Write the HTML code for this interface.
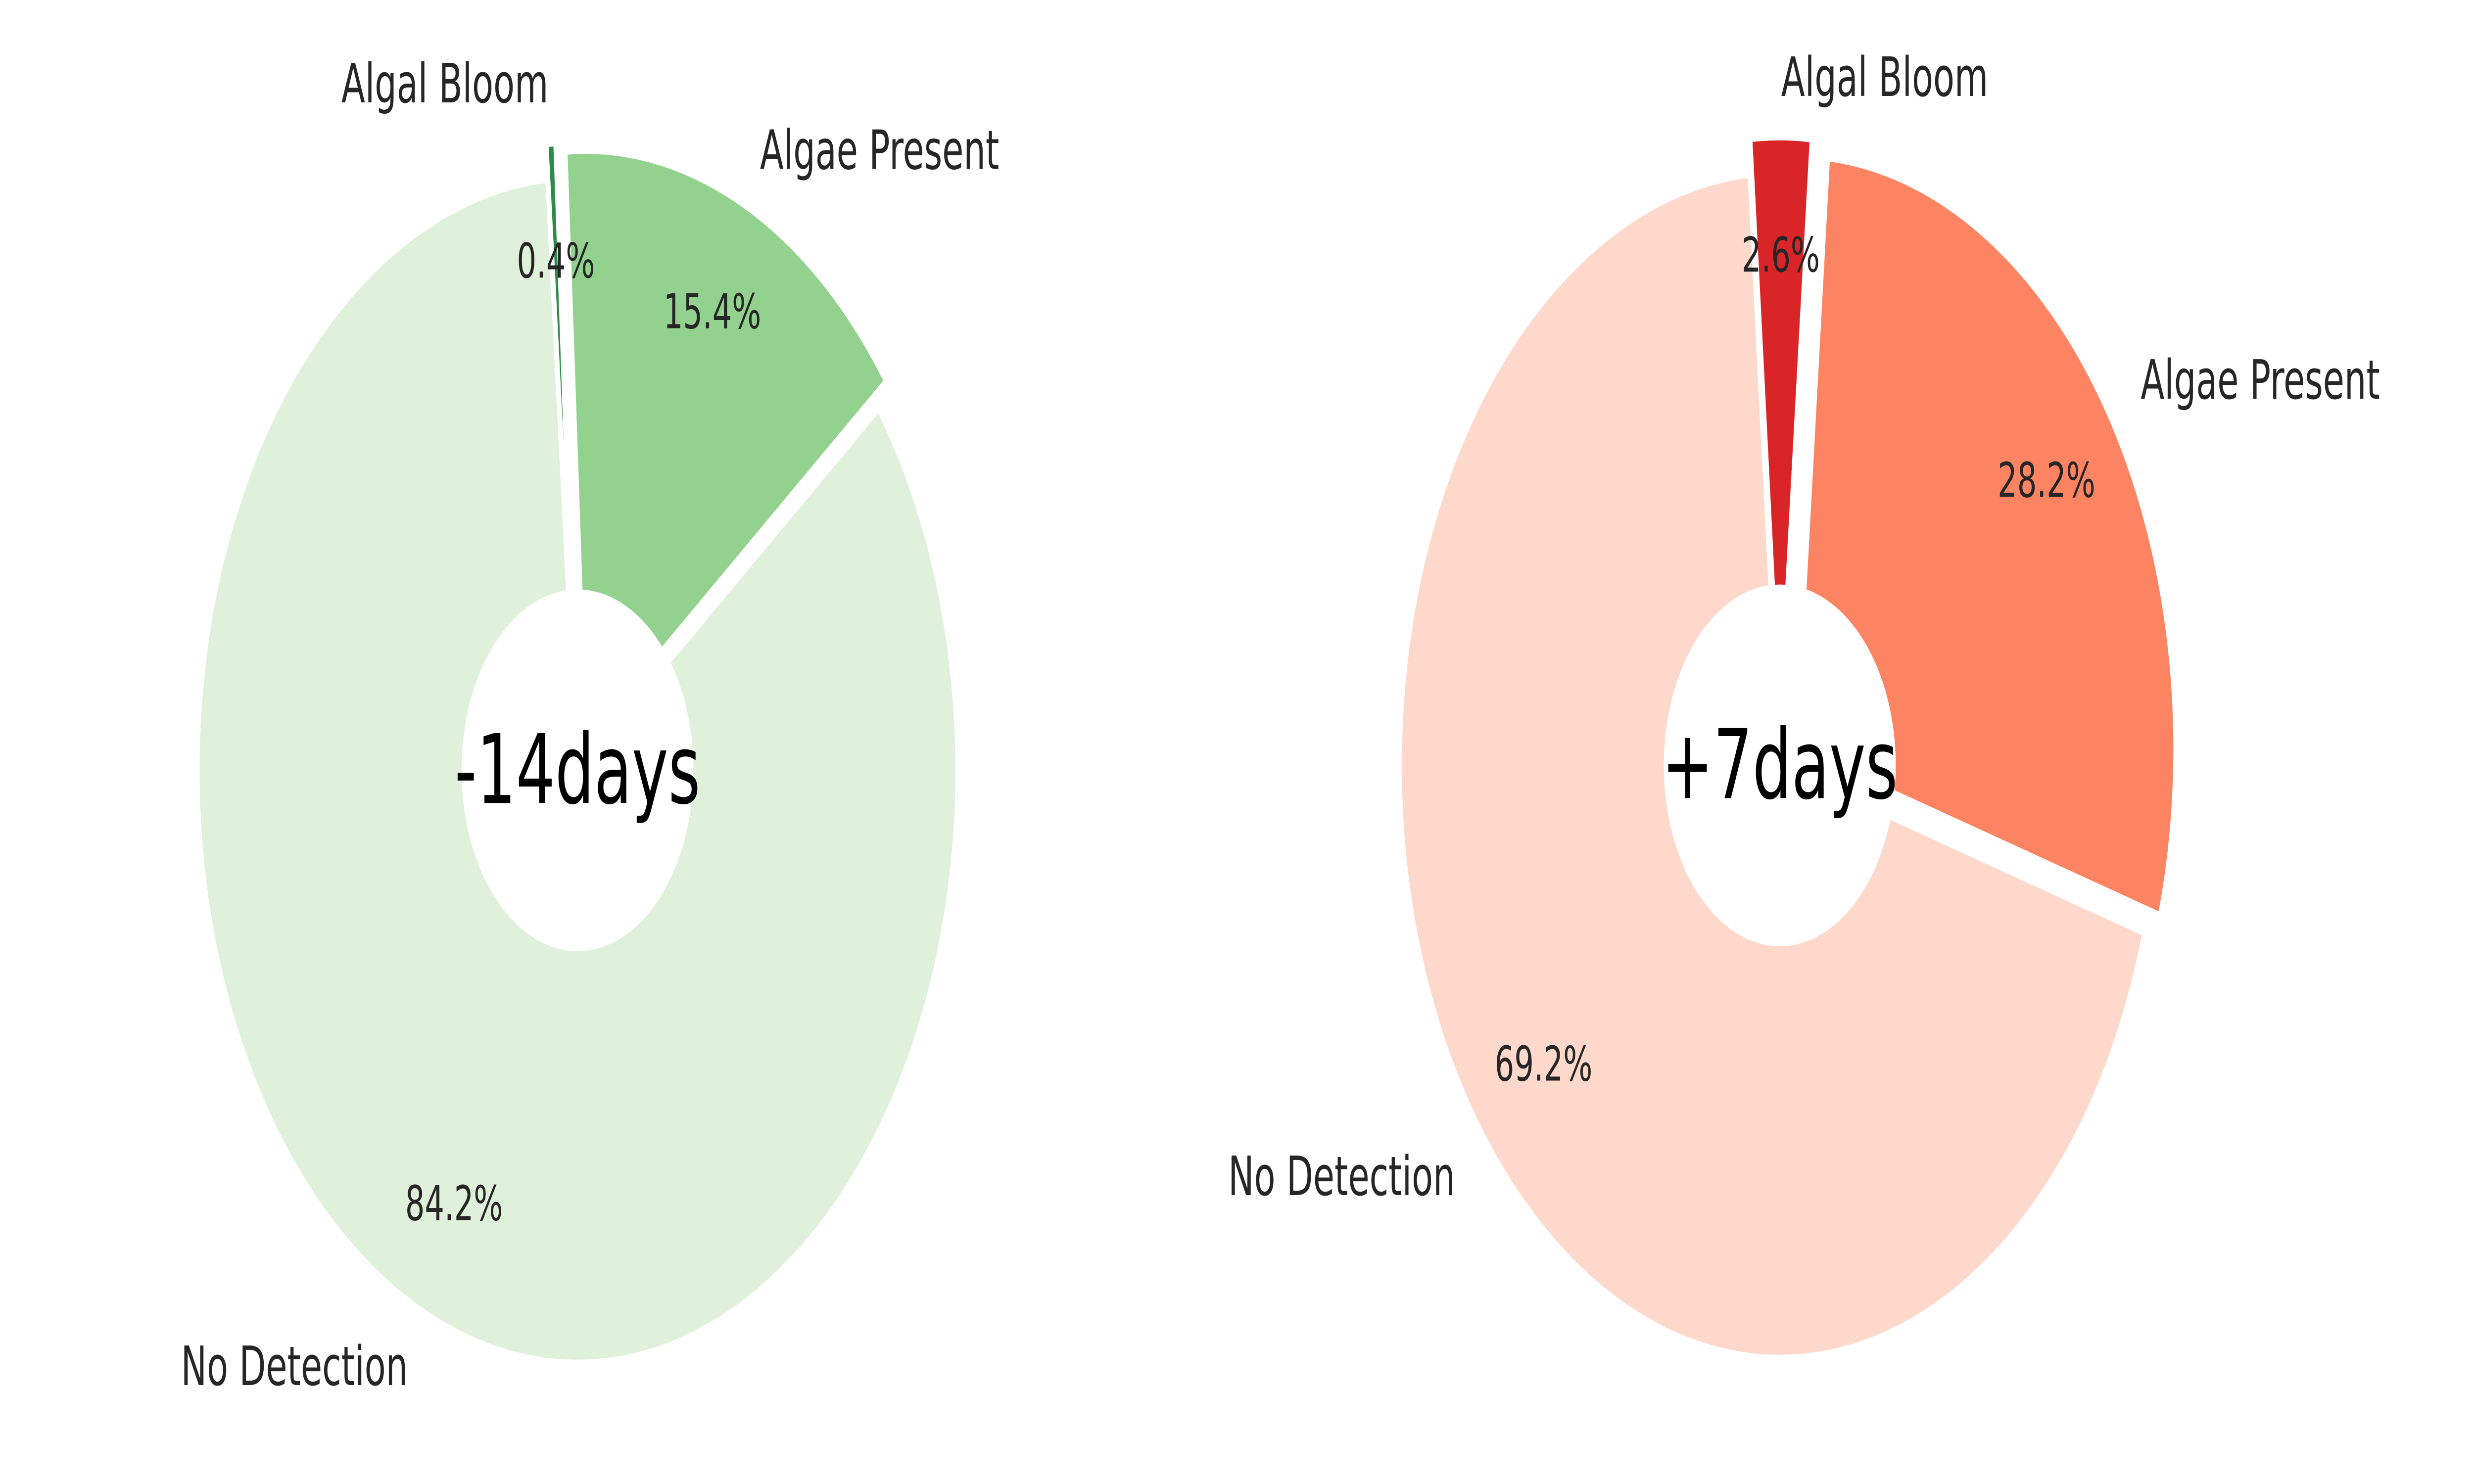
<!DOCTYPE html>
<html><head><meta charset="utf-8"><style>
html,body{margin:0;padding:0;background:#fff;width:100%;height:100%;overflow:hidden;}
svg{display:block;width:100vw;height:100vh;font-family:"DejaVu Sans","Liberation Sans",sans-serif;}
</style></head><body>
<svg id="chart" viewBox="0 0 1568 603" preserveAspectRatio="none" xmlns="http://www.w3.org/2000/svg"></svg>
<script>
const categories = ["No Detection", "Algae Present", "Algal Bloom"];
const leftValues = [84.2, 15.4, 0.4];
const rightValues = [69.2, 28.2, 2.6];
const leftTitle = "-14days";
const rightTitle = "+7days";
const leftColors = ["#dff1da", "#92d28e", "#2e8b4a"];
const rightColors = ["#fdd8cb", "#fc8462", "#d92527"];
const explode = [0, 0.05, 0.06];

const NS = "http://www.w3.org/2000/svg";
const svg = document.getElementById("chart");
function mk(tag, attrs){const e=document.createElementNS(NS,tag);for(const k in attrs)e.setAttribute(k,attrs[k]);return e;}

function drawPie(cx, cy, r, values, colors, title, name){
  const g = mk("g",{});
  
  
  svg.appendChild(g);
  const total = values.reduce((a,b)=>a+b,0);
  let a = 94.5;
  const labels = [];
  values.forEach((v,i)=>{
    const sweep = v/total*360;
    const a0=a, a1=a+sweep; a=a1;
    const mid=(a0+a1)/2*Math.PI/180;
    const ox = cx + explode[i]*r*Math.cos(mid), oy = cy - explode[i]*r*Math.sin(mid);
    const p0=[ox+r*Math.cos(a0*Math.PI/180), oy-r*Math.sin(a0*Math.PI/180)];
    const p1=[ox+r*Math.cos(a1*Math.PI/180), oy-r*Math.sin(a1*Math.PI/180)];
    const large = sweep>180?1:0;
    const path = mk("path",{d:`M${ox},${oy} L${p0[0]},${p0[1]} A${r},${r} 0 ${large} 0 ${p1[0]},${p1[1]} Z`, fill:colors[i], stroke:"#fff","stroke-width":3,"stroke-linejoin":"miter"});
    
    
    g.appendChild(path);
    labels.push({ox,oy,mid,i,v});
  });
  const hole = mk("circle",{cx,cy,r:r*0.305,fill:"#fff"});
  
  
  g.appendChild(hole);
  labels.forEach(L=>{
    const c=Math.cos(L.mid), s=Math.sin(L.mid);
    const lx=L.ox+1.1*r*c, ly=L.oy-1.1*r*s;
    const t=mk("text",{x:lx,y:ly,"font-size":22,fill:"#262626","text-anchor":c<0?"end":"start","dominant-baseline":"central"});
    t.textContent=categories[L.i];
    
    
    g.appendChild(t);
    const px=L.ox+0.8*r*c, py=L.oy-0.8*r*s;
    const p=mk("text",{x:px,y:py,"font-size":19.5,fill:"#262626","text-anchor":"middle","dominant-baseline":"central"});
    p.textContent=L.v.toFixed(1)+"%";
    
    
    g.appendChild(p);
  });
  const ct=mk("text",{x:cx,y:cy,"font-size":39,fill:"#000","text-anchor":"middle","dominant-baseline":"central"});
  ct.textContent=title;
  
  
  g.appendChild(ct);
}
drawPie(366, 313, 241, leftValues, leftColors, leftTitle, "pie-minus-14-days");
drawPie(1128, 311, 241, rightValues, rightColors, rightTitle, "pie-plus-7-days");
</script>
</body></html>
